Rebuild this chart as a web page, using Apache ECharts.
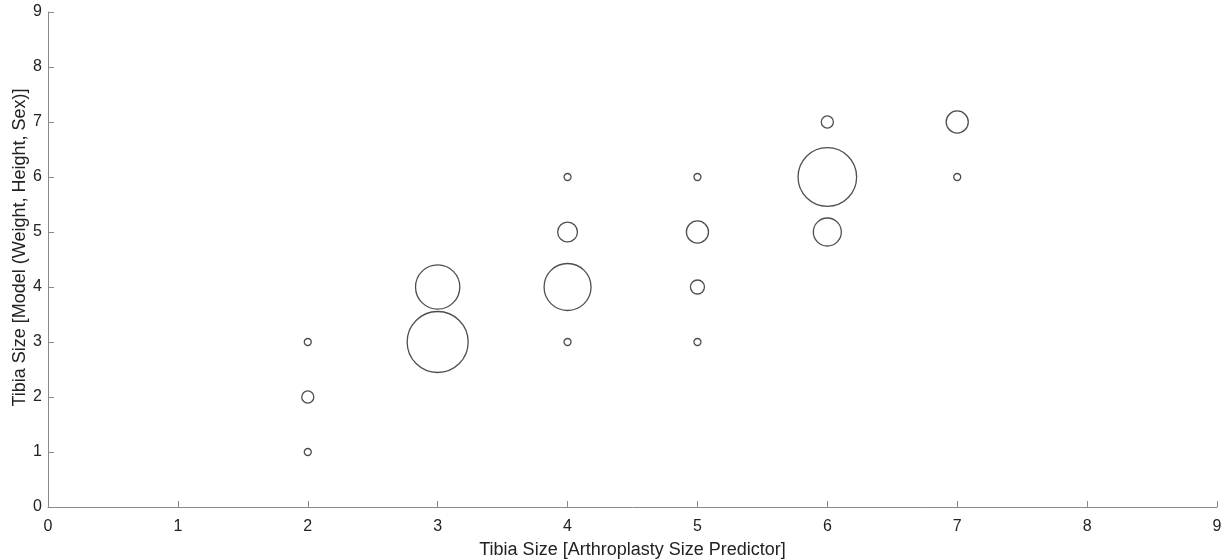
<!DOCTYPE html>
<html><head><meta charset="utf-8">
<script src="https://cdn.jsdelivr.net/npm/echarts@6/dist/echarts.min.js"></script>
<style>html,body{margin:0;padding:0;background:#fff}#c{width:1228px;height:560px}</style>
</head><body><div id="c"></div>
<script>
// Arthroplasty predictor size (x), model size (y), estimated count (bubble area)
const xSize = [2, 2, 2, 3, 3, 4, 4, 4, 4, 5, 5, 5, 5, 6, 6, 6, 7, 7];
const ySize = [1, 2, 3, 3, 4, 3, 4, 5, 6, 3, 4, 5, 6, 5, 6, 7, 6, 7];
const counts = [1, 3, 1, 76, 40, 1, 45, 8, 1, 1, 4, 10, 1, 16, 70, 3, 1, 10];
const xTicks = [0, 1, 2, 3, 4, 5, 6, 7, 8, 9];
const yTicks = [0, 1, 2, 3, 4, 5, 6, 7, 8, 9];

const data = xSize.map((x, i) => [x, ySize[i], counts[i]]);
const font = 'Liberation Sans, Arial, Helvetica, sans-serif';
const axisCol = '#8a8a8a';
const chart = echarts.init(document.getElementById('c'));
chart.setOption({
  animation: false,
  grid: { left: 48, right: 11, top: 12, bottom: 53, containLabel: false, outerBoundsMode: 'none' },
  xAxis: {
    type: 'value', min: xTicks[0], max: xTicks[xTicks.length - 1], interval: 1,
    name: 'Tibia Size [Arthroplasty Size Predictor]', nameLocation: 'middle', nameGap: 34,
    nameMoveOverlap: false,
    nameTextStyle: { fontFamily: font, fontSize: 18, color: '#222' },
    axisLine: { show: true, lineStyle: { color: axisCol, width: 1 } },
    axisTick: { show: true, inside: true, length: 6, lineStyle: { color: axisCol } },
    axisLabel: { fontFamily: font, fontSize: 16, color: '#222', margin: 12 },
    splitLine: { show: false }
  },
  yAxis: {
    type: 'value', min: yTicks[0], max: yTicks[yTicks.length - 1], interval: 1,
    name: 'Tibia Size [Model (Weight, Height, Sex)]', nameLocation: 'middle', nameGap: 19,
    nameMoveOverlap: false,
    nameTextStyle: { fontFamily: font, fontSize: 18, color: '#222', padding: [0, 0, 0, 24] },
    axisLine: { show: true, lineStyle: { color: axisCol, width: 1 } },
    axisTick: { show: true, inside: true, length: 6, lineStyle: { color: axisCol } },
    axisLabel: { fontFamily: font, fontSize: 16, color: '#222', margin: 6 },
    splitLine: { show: false }
  },
  series: [{
    type: 'scatter',
    data: data,
    symbol: 'circle',
    symbolSize: d => 7 * Math.sqrt(d[2]),
    itemStyle: { color: 'rgba(255,255,255,0)', borderColor: '#222', borderWidth: 1.3 }
  }]
});
</script></body></html>
